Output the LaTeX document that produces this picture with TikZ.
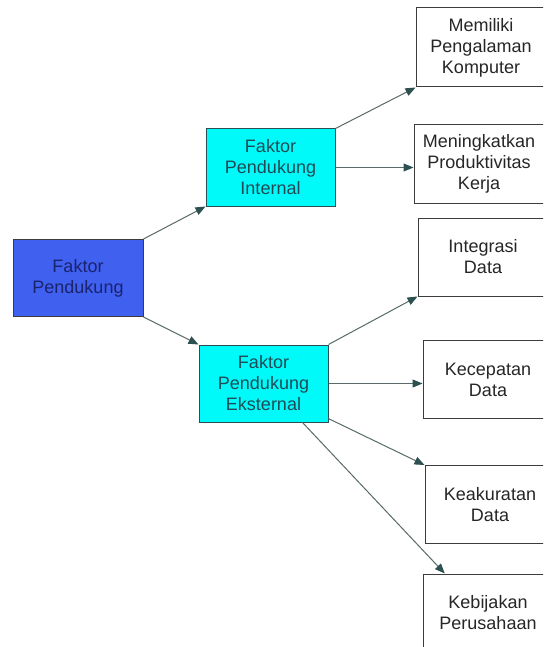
\documentclass[tikz,border=0pt]{standalone}
\usepackage{fontspec}
\setmainfont{Liberation Sans}
\usetikzlibrary{arrows.meta,calc}
\definecolor{mainfill}{RGB}{64,96,240}
\definecolor{maintext}{RGB}{25,35,110}
\definecolor{cyanfill}{RGB}{0,250,250}
\definecolor{cyantext}{RGB}{30,75,85}
\definecolor{cyanborder}{RGB}{40,80,85}
\definecolor{boxborder}{RGB}{60,60,60}
\definecolor{linegray}{RGB}{90,105,105}
\definecolor{headcol}{RGB}{45,80,80}
\tikzset{
  x=1pt, y=-1pt,
  base/.style={draw, line width=1pt, align=center, inner sep=0pt,
    font=\fontsize{18}{21}\selectfont},
  mainbox/.style={base, fill=mainfill, text=maintext, draw=boxborder, minimum width=130pt, minimum height=77pt},
  midbox/.style={base, fill=cyanfill, text=cyantext, draw=cyanborder, minimum width=129pt, minimum height=77pt},
  leafbox/.style={base, fill=white, text=black!85, draw=boxborder, minimum width=130pt, minimum height=78pt},
  conn/.style={draw=linegray, line width=1pt, -{Triangle[length=10pt,width=8pt,color=headcol]}}
}
\begin{document}
\begin{tikzpicture}
\useasboundingbox (0,0) rectangle (543,647);
\clip (0,0) rectangle (543,647);
\fill[white] (0,0) rectangle (543,647);
\node[mainbox] (main) at (78,278) {Faktor\\Pendukung};
\node[midbox] (int) at (270.5,167.5) {Faktor\\Pendukung\\Internal};
\node[midbox] (eks) at (263.5,383.5) {Faktor\\Pendukung\\Eksternal};
\node[leafbox, minimum height=79pt] (mem) at (481,47.5) {Memiliki\\Pengalaman\\Komputer};
\node[leafbox] (men) at (479,164) {Meningkatkan\\Produktivitas\\Kerja};
\node[leafbox] (integ) at (483,257) {Integrasi\\Data};
\node[leafbox] (kec) at (488,379.5) {Kecepatan\\Data};
\node[leafbox] (kea) at (490,504.5) {Keakuratan\\Data};
\node[leafbox] (keb) at (488,613) {Kebijakan\\Perusahaan};
\coordinate (ekssw) at ($(eks.south west)!0.8!(eks.south east)$);
\coordinate (kebn) at ($(keb.north west)!0.17!(keb.north east)$);
\coordinate (ekse) at ($(eks.north east)!0.95!(eks.south east)$);
\draw[conn] (main.north east) -- (int.south west);
\draw[conn] (main.south east) -- (eks.north west);
\draw[conn] (int.north east) -- (mem.south west);
\draw[conn] (int.east) -- (int.east -| men.west);
\draw[conn] (eks.north east) -- (integ.south west);
\draw[conn] (eks.east) -- (eks.east -| kec.west);
\draw[conn] (ekse) -- (kea.north west);
\draw[conn] (ekssw) -- (kebn);
\end{tikzpicture}
\end{document}
